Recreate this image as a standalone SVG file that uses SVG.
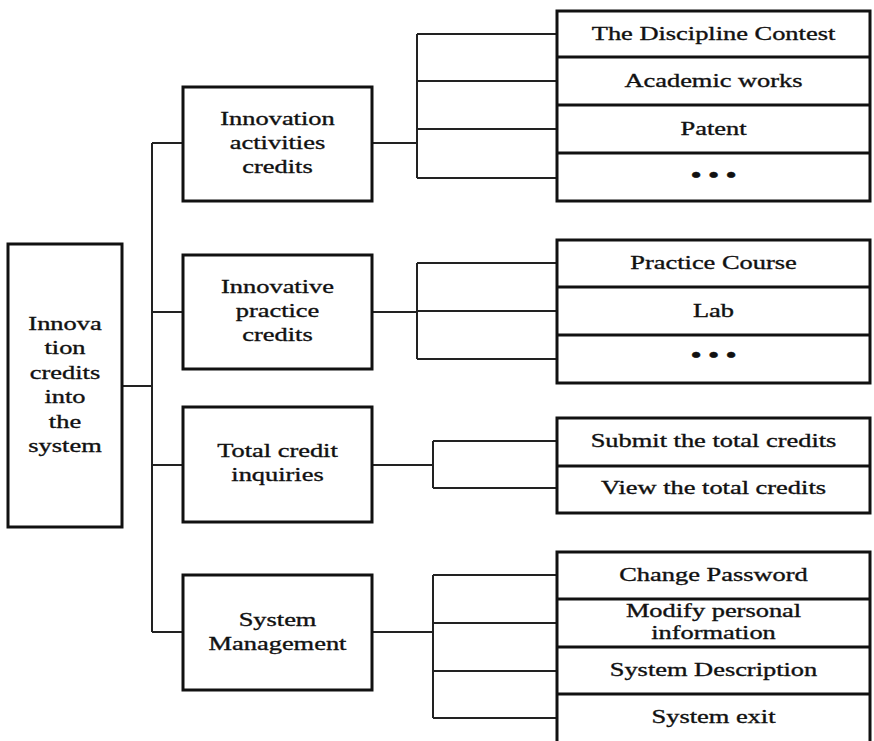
<svg xmlns="http://www.w3.org/2000/svg" width="874" height="741" viewBox="0 0 874 741">
<style>
.box{fill:#fff;stroke:#111;stroke-width:3}
.div{stroke:#111;stroke-width:3}
.con{fill:none;stroke:#222;stroke-width:2}
text{font-family:"Liberation Serif","Times New Roman",serif;font-size:19px;fill:#111;stroke:#111;stroke-width:0.35;text-anchor:middle}
.dots{font-size:20px;font-weight:bold}
</style>
<rect width="874" height="741" fill="#fff"/>
<g id="connectors" class="con">
<path d="M122 386H152M152 143V632M152 143H183M152 312H183M152 465H183M152 632H183"/>
<path d="M372 143H417M417 34V178M417 34H557M417 81H557M417 129H557M417 178H557"/>
<path d="M372 312H417M417 263V359M417 263H557M417 311H557M417 359H557"/>
<path d="M372 465H433M433 441V488M433 441H557M433 488H557"/>
<path d="M372 632H433M433 575V718M433 575H557M433 623H557M433 671H557M433 718H557"/>
</g>
<g id="root">
<rect class="box" x="8" y="244" width="114" height="283"/>
<text transform="translate(65,330) scale(1.39,1)"><tspan x="0" y="0">Innova</tspan><tspan x="0" y="24.4">tion</tspan><tspan x="0" y="48.8">credits</tspan><tspan x="0" y="73.2">into</tspan><tspan x="0" y="97.6">the</tspan><tspan x="0" y="122">system</tspan></text>
</g>
<g id="activities">
<rect class="box" x="183" y="87" width="189" height="114"/>
<text transform="translate(277.5,125) scale(1.39,1)"><tspan x="0" y="0">Innovation</tspan><tspan x="0" y="24">activities</tspan><tspan x="0" y="48">credits</tspan></text>
</g>
<g id="practice">
<rect class="box" x="183" y="255" width="189" height="114"/>
<text transform="translate(277.5,293) scale(1.39,1)"><tspan x="0" y="0">Innovative</tspan><tspan x="0" y="24">practice</tspan><tspan x="0" y="48">credits</tspan></text>
</g>
<g id="inquiries">
<rect class="box" x="183" y="407" width="189" height="115"/>
<text transform="translate(277.5,457) scale(1.39,1)"><tspan x="0" y="0">Total credit</tspan><tspan x="0" y="24.5">inquiries</tspan></text>
</g>
<g id="management">
<rect class="box" x="183" y="575" width="189" height="115"/>
<text transform="translate(277.5,626) scale(1.39,1)"><tspan x="0" y="0">System</tspan><tspan x="0" y="24.5">Management</tspan></text>
</g>
<g id="leaves-activities">
<rect class="box" x="557" y="11" width="313" height="190"/>
<path class="div" d="M557 57H870M557 105H870M557 153H870"/>
<text transform="translate(713.5,40) scale(1.39,1)">The Discipline Contest</text>
<text transform="translate(713.5,87) scale(1.39,1)">Academic works</text>
<text transform="translate(713.5,135) scale(1.39,1)">Patent</text>
<text class="dots" transform="translate(713.5,182) scale(1.46,1)">• • •</text>
</g>
<g id="leaves-practice">
<rect class="box" x="557" y="240" width="313" height="143"/>
<path class="div" d="M557 287H870M557 335H870"/>
<text transform="translate(713.5,269) scale(1.39,1)">Practice Course</text>
<text transform="translate(713.5,317) scale(1.39,1)">Lab</text>
<text class="dots" transform="translate(713.5,362) scale(1.46,1)">• • •</text>
</g>
<g id="leaves-inquiries">
<rect class="box" x="557" y="418" width="313" height="95"/>
<path class="div" d="M557 466H870"/>
<text transform="translate(713.5,447) scale(1.39,1)">Submit the total credits</text>
<text transform="translate(713.5,494) scale(1.39,1)">View the total credits</text>
</g>
<g id="leaves-management">
<rect class="box" x="557" y="552" width="313" height="192"/>
<path class="div" d="M557 599H870M557 647H870M557 694H870"/>
<text transform="translate(713.5,581) scale(1.39,1)">Change Password</text>
<text transform="translate(713.5,617) scale(1.39,1)"><tspan x="0" y="0">Modify personal</tspan><tspan x="0" y="22">information</tspan></text>
<text transform="translate(713.5,676) scale(1.39,1)">System Description</text>
<text transform="translate(713.5,723) scale(1.39,1)">System exit</text>
</g>
</svg>
